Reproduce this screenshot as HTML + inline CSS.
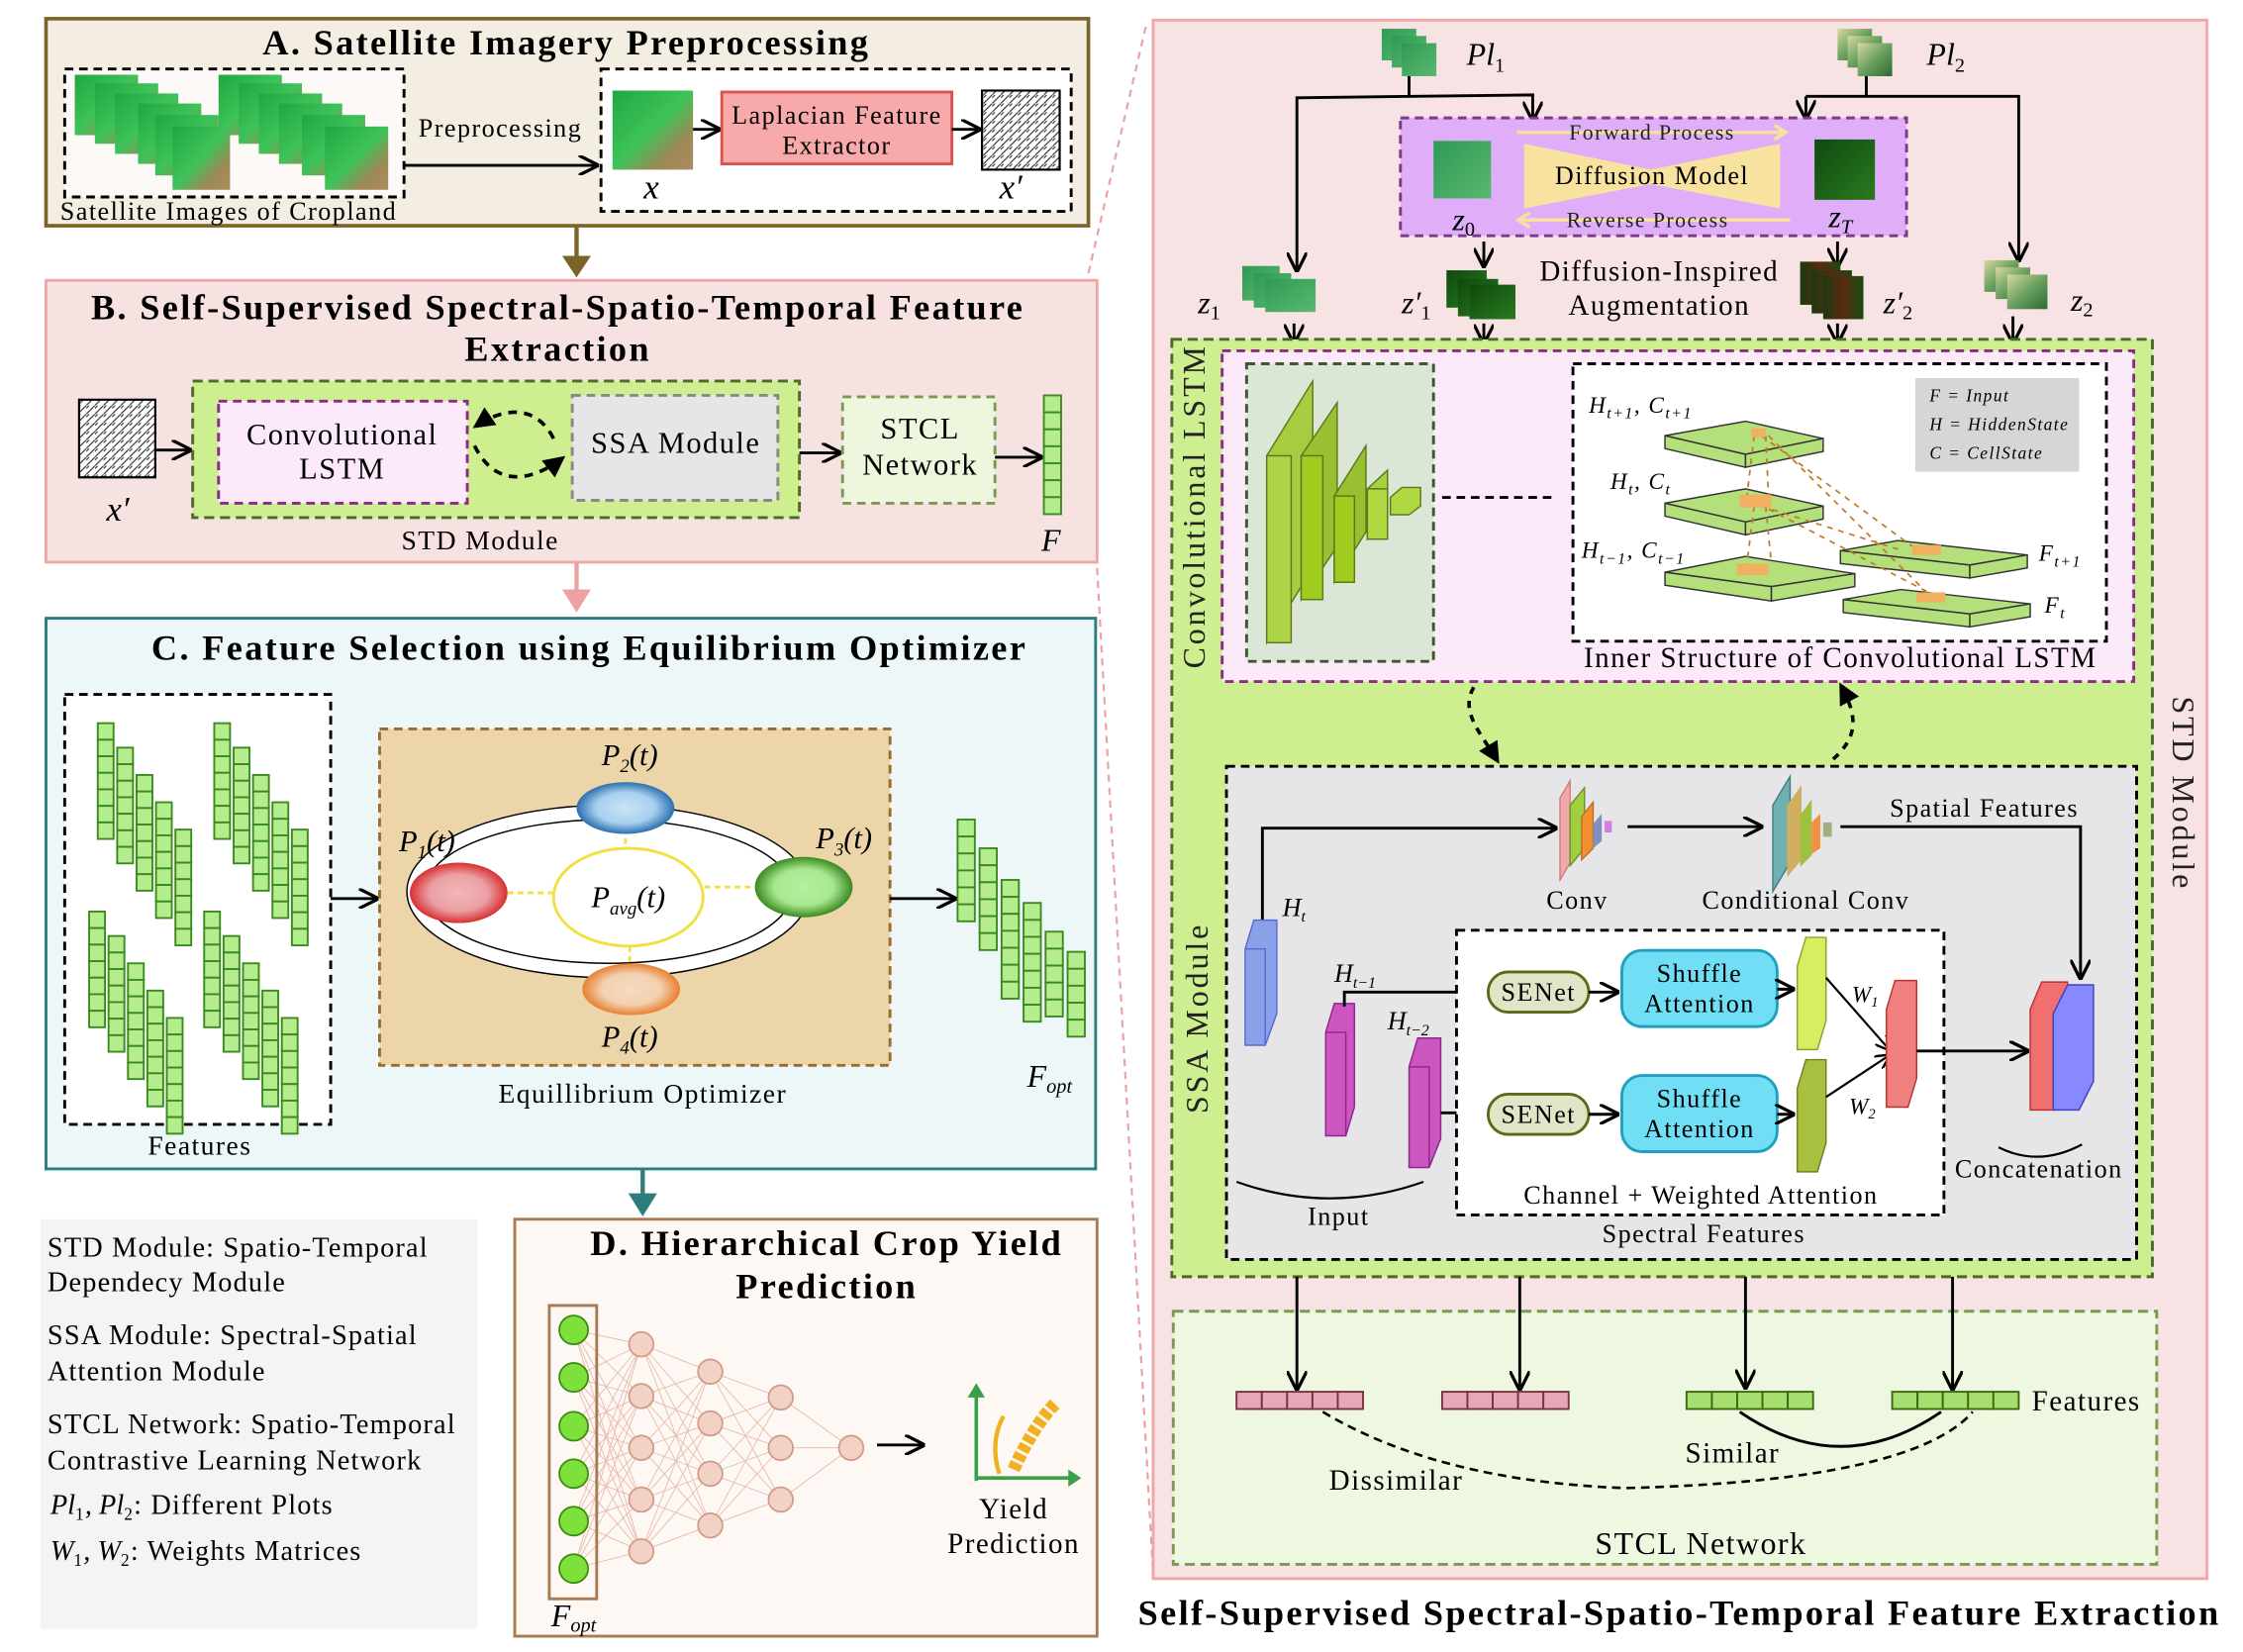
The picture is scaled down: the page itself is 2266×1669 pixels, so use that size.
<!DOCTYPE html>
<html><head><meta charset="utf-8"><style>
html,body{margin:0;padding:0;background:#fff;}
svg{display:block;}
text{font-family:"Liberation Serif",serif;letter-spacing:1px;}
.t{font-weight:bold;font-size:25px !important;text-anchor:middle;letter-spacing:1.6px;}
.m{font-size:17px;}
.i,tspan.i{font-style:italic;letter-spacing:0;}
text.i{letter-spacing:0;}
text[font-size="14"]{font-size:15px;}
text[font-size="15"]{font-size:16px;}
text[font-size="16"]{font-size:18px;}
text[font-size="17"]{font-size:19px;}
text[font-size="18"]{font-size:20px;}
text[font-size="19"]{font-size:21px;}
text[font-size="20"]{font-size:22px;}
text.rot{font-size:22px;letter-spacing:2px;}
g[font-size="18"]{font-size:19.5px;}
g[font-size="18"] text{letter-spacing:0.8px;}
</style></head><body>
<svg id="s" xmlns="http://www.w3.org/2000/svg" width="2266" height="1669" viewBox="0 0 1560 1149" preserveAspectRatio="none">
<defs>
<marker id="ar" viewBox="0 0 10 10" refX="9" refY="5" markerWidth="7" markerHeight="7" orient="auto"><path d="M0,0 L10,5 L0,10" fill="none" stroke="#000" stroke-width="1.6"/></marker>
<marker id="af" viewBox="0 0 10 10" refX="9" refY="5" markerWidth="6" markerHeight="6" orient="auto"><path d="M0,0 L10,5 L0,10z" fill="#000"/></marker>
<linearGradient id="sat" x1="0" y1="0" x2="1" y2="1"><stop offset="0" stop-color="#1fa840"/><stop offset=".5" stop-color="#3fc25a"/><stop offset=".75" stop-color="#9a8a55"/><stop offset="1" stop-color="#b08a60"/></linearGradient>
<linearGradient id="g1" x1="0" y1="0" x2="1" y2="1"><stop offset="0" stop-color="#2e9a55"/><stop offset="1" stop-color="#5ab870"/></linearGradient>
<linearGradient id="g2" x1="0" y1="0" x2="1" y2="1"><stop offset="0" stop-color="#d8d8a0"/><stop offset=".5" stop-color="#6aa060"/><stop offset="1" stop-color="#2c6a30"/></linearGradient>
<linearGradient id="g3" x1="0" y1="0" x2="1" y2="1"><stop offset="0" stop-color="#0e4a0e"/><stop offset="1" stop-color="#2a7a20"/></linearGradient>
<linearGradient id="g4" x1="0" y1="0" x2="1" y2="0"><stop offset="0" stop-color="#1a3a10"/><stop offset=".5" stop-color="#5a2a10"/><stop offset="1" stop-color="#1a4a10"/></linearGradient>
<radialGradient id="er"><stop offset="0" stop-color="#f5b5b5"/><stop offset=".6" stop-color="#eaa0a5"/><stop offset="1" stop-color="#d83030"/></radialGradient>
<radialGradient id="eb"><stop offset="0" stop-color="#c8e4f5"/><stop offset=".6" stop-color="#a8d0ee"/><stop offset="1" stop-color="#2a70b0"/></radialGradient>
<radialGradient id="eg"><stop offset="0" stop-color="#b8eea0"/><stop offset=".6" stop-color="#a8e890"/><stop offset="1" stop-color="#3a8a20"/></radialGradient>
<radialGradient id="eo"><stop offset="0" stop-color="#f5dcc0"/><stop offset=".6" stop-color="#f3d0b0"/><stop offset="1" stop-color="#e88030"/></radialGradient>
<pattern id="lap" width="6" height="6" patternUnits="userSpaceOnUse"><rect width="6" height="6" fill="#fff"/><path d="M0,6 L6,0 M0,2 L2,0" stroke="#333" stroke-width=".8"/></pattern>
</defs>

<rect x="802" y="14" width="733" height="1084" fill="#f7e3e3" stroke="#efa7a7" stroke-width="2"/>
<line x1="757" y1="190" x2="797" y2="18" stroke="#efa0a0" stroke-width="1.5" stroke-dasharray="5,4"/>
<line x1="763" y1="395" x2="802" y2="1095" stroke="#efa0a0" stroke-width="1.5" stroke-dasharray="5,4"/>

<!-- A -->
<rect x="32" y="13" width="725" height="144" fill="#f3ede2" stroke="#7b6428" stroke-width="2.5"/>
<text x="394" y="38" class="t">A. Satellite Imagery Preprocessing</text>
<rect x="45" y="48" width="236" height="89" fill="#fdf9f6" stroke="#000" stroke-width="2" stroke-dasharray="6,4"/>
<g>
<rect x="52" y="52" width="44" height="42" fill="url(#sat)"/><rect x="66" y="58" width="44" height="42" fill="url(#sat)"/><rect x="80" y="65" width="44" height="42" fill="url(#sat)"/><rect x="96" y="72" width="44" height="42" fill="url(#sat)"/><rect x="108" y="80" width="44" height="42" fill="url(#sat)"/><rect x="120" y="88" width="40" height="44" fill="url(#sat)"/>
<rect x="152" y="52" width="44" height="42" fill="url(#sat)"/><rect x="166" y="58" width="44" height="42" fill="url(#sat)"/><rect x="180" y="65" width="44" height="42" fill="url(#sat)"/><rect x="194" y="72" width="44" height="42" fill="url(#sat)"/><rect x="210" y="80" width="44" height="42" fill="url(#sat)"/><rect x="226" y="88" width="44" height="44" fill="url(#sat)"/>
</g>
<text x="159" y="153" text-anchor="middle" font-size="16">Satellite Images of Cropland</text>
<line x1="282" y1="115" x2="415" y2="115" stroke="#000" stroke-width="2" marker-end="url(#ar)"/>
<text x="348" y="95" text-anchor="middle" font-size="16">Preprocessing</text>
<rect x="418" y="48" width="327" height="99" fill="#fff" stroke="#000" stroke-width="2" stroke-dasharray="6,4"/>
<rect x="426" y="63" width="56" height="55" fill="url(#sat)"/>
<line x1="482" y1="90" x2="500" y2="90" stroke="#000" stroke-width="2" marker-end="url(#ar)"/>
<rect x="502" y="64" width="160" height="50" fill="#f8aaaa" stroke="#d9534f" stroke-width="2"/>
<text x="582" y="86" text-anchor="middle" font-size="16">Laplacian Feature</text>
<text x="582" y="107" text-anchor="middle" font-size="16">Extractor</text>
<line x1="662" y1="90" x2="681" y2="90" stroke="#000" stroke-width="2" marker-end="url(#ar)"/>
<rect x="683" y="63" width="54" height="55" fill="url(#lap)" stroke="#000" stroke-width="1.5"/>
<text x="453" y="138" font-size="24" class="i" text-anchor="middle">x</text>
<text x="703" y="138" font-size="24" class="i" text-anchor="middle">x′</text>
<line x1="401" y1="157" x2="401" y2="180" stroke="#7b6428" stroke-width="3"/>
<path d="M391,178 L411,178 L401,193z" fill="#7b6428"/>

<!-- B -->
<rect x="32" y="195" width="731" height="196" fill="#f7e2e2" stroke="#efa7a7" stroke-width="2"/>
<text x="388" y="222" class="t">B. Self-Supervised Spectral-Spatio-Temporal Feature</text>
<text x="388" y="251" class="t">Extraction</text>
<rect x="55" y="278" width="53" height="54" fill="url(#lap)" stroke="#000" stroke-width="1.5"/>
<line x1="108" y1="313" x2="132" y2="313" stroke="#000" stroke-width="2" marker-end="url(#ar)"/>
<text x="82" y="362" font-size="24" class="i" text-anchor="middle">x′</text>
<rect x="134" y="265" width="422" height="95" fill="#cdef8f" stroke="#4a6b2a" stroke-width="2" stroke-dasharray="7,4"/>
<rect x="152" y="279" width="173" height="71" fill="#fceafb" stroke="#8a2a8a" stroke-width="2" stroke-dasharray="6,4"/>
<text x="238" y="309" text-anchor="middle" font-size="19">Convolutional</text>
<text x="238" y="333" text-anchor="middle" font-size="19">LSTM</text>
<rect x="398" y="275" width="143" height="73" fill="#e6e6e6" stroke="#888" stroke-width="2" stroke-dasharray="6,4"/>
<text x="470" y="315" text-anchor="middle" font-size="19">SSA Module</text>
<path d="M385,305 C375,285 355,280 330,297" fill="none" stroke="#000" stroke-width="2.5" stroke-dasharray="6,5" marker-end="url(#af)"/>
<path d="M330,310 C345,340 370,335 392,318" fill="none" stroke="#000" stroke-width="2.5" stroke-dasharray="6,5" marker-end="url(#af)"/>
<text x="334" y="382" text-anchor="middle" font-size="17">STD Module</text>
<line x1="556" y1="315" x2="584" y2="315" stroke="#000" stroke-width="2" marker-end="url(#ar)"/>
<rect x="586" y="276" width="106" height="74" fill="#eef7de" stroke="#7a9a50" stroke-width="2" stroke-dasharray="6,4"/>
<text x="640" y="305" text-anchor="middle" font-size="19">STCL</text>
<text x="640" y="330" text-anchor="middle" font-size="19">Network</text>
<line x1="692" y1="318" x2="724" y2="318" stroke="#000" stroke-width="2" marker-end="url(#ar)"/>
<g id="fcol"></g>
<text x="731" y="383" font-size="22" class="i" text-anchor="middle">F</text>
<line x1="401" y1="391" x2="401" y2="412" stroke="#efa0a0" stroke-width="3"/>
<path d="M391,410 L411,410 L401,426z" fill="#efa0a0"/>

<!-- C -->
<rect x="32" y="430" width="730" height="383" fill="#eef7f8" stroke="#2e7d7e" stroke-width="2"/>
<text x="410" y="459" class="t">C. Feature Selection using Equilibrium Optimizer</text>
<rect x="45" y="483" width="185" height="299" fill="#fff" stroke="#000" stroke-width="2" stroke-dasharray="6,4"/>
<g id="feats"></g>
<text x="139" y="803" text-anchor="middle" font-size="17">Features</text>
<line x1="230" y1="625" x2="262" y2="625" stroke="#000" stroke-width="2" marker-end="url(#ar)"/>
<rect x="264" y="507" width="355" height="234" fill="#edd5aa" stroke="#9a6a30" stroke-width="2" stroke-dasharray="6,4"/>
<ellipse cx="423" cy="620" rx="140" ry="60" fill="#fff" stroke="#000" stroke-width="1"/>
<ellipse cx="423" cy="620" rx="128" ry="50" fill="#fff" stroke="#000" stroke-width="1"/>
<line x1="353" y1="621" x2="384" y2="621" stroke="#f0e040" stroke-width="2" stroke-dasharray="4,3"/>
<line x1="490" y1="617" x2="525" y2="617" stroke="#f0e040" stroke-width="2" stroke-dasharray="4,3"/>
<line x1="435" y1="576" x2="435" y2="597" stroke="#f0e040" stroke-width="2" stroke-dasharray="4,3"/>
<line x1="438" y1="651" x2="438" y2="670" stroke="#f0e040" stroke-width="2" stroke-dasharray="4,3"/>
<ellipse cx="437" cy="624" rx="52" ry="34" fill="#fff" stroke="#f0e040" stroke-width="2"/>
<text x="437" y="631" text-anchor="middle" font-size="21" class="i">P<tspan font-size="13" dy="5">avg</tspan><tspan dy="-5">(t)</tspan></text>
<ellipse cx="319" cy="621" rx="34" ry="21" fill="url(#er)"/>
<ellipse cx="435" cy="562" rx="34" ry="18" fill="url(#eb)"/>
<ellipse cx="559" cy="617" rx="34" ry="21" fill="url(#eg)"/>
<ellipse cx="439" cy="688" rx="34" ry="18" fill="url(#eo)"/>
<text x="297" y="592" text-anchor="middle" font-size="21" class="i">P<tspan font-size="13" dy="5">1</tspan><tspan dy="-5">(t)</tspan></text>
<text x="438" y="532" text-anchor="middle" font-size="21" class="i">P<tspan font-size="13" dy="5">2</tspan><tspan dy="-5">(t)</tspan></text>
<text x="587" y="590" text-anchor="middle" font-size="21" class="i">P<tspan font-size="13" dy="5">3</tspan><tspan dy="-5">(t)</tspan></text>
<text x="438" y="728" text-anchor="middle" font-size="21" class="i">P<tspan font-size="13" dy="5">4</tspan><tspan dy="-5">(t)</tspan></text>
<text x="447" y="767" text-anchor="middle" font-size="17">Equillibrium Optimizer</text>
<line x1="619" y1="625" x2="664" y2="625" stroke="#000" stroke-width="2" marker-end="url(#ar)"/>
<g id="fopt"></g>
<text x="730" y="756" text-anchor="middle" font-size="20" class="i">F<tspan font-size="14" dy="4">opt</tspan></text>
<line x1="447" y1="813" x2="447" y2="832" stroke="#2e7d7e" stroke-width="3"/>
<path d="M437,830 L457,830 L447,846z" fill="#2e7d7e"/>

<!-- Legend -->
<rect x="28" y="848" width="304" height="285" fill="#f4f4f4"/>
<g font-size="18">
<text x="33" y="874">STD Module: Spatio-Temporal</text>
<text x="33" y="898">Dependecy Module</text>
<text x="33" y="935">SSA Module: Spectral-Spatial</text>
<text x="33" y="960">Attention Module</text>
<text x="33" y="997">STCL Network: Spatio-Temporal</text>
<text x="33" y="1022">Contrastive Learning Network</text>
<text x="35" y="1053"><tspan class="i">Pl</tspan><tspan font-size="12" dy="4">1</tspan><tspan dy="-4" class="i">, Pl</tspan><tspan font-size="12" dy="4">2</tspan><tspan dy="-4">: Different Plots</tspan></text>
<text x="35" y="1085"><tspan class="i">W</tspan><tspan font-size="12" dy="4">1</tspan><tspan dy="-4" class="i">, W</tspan><tspan font-size="12" dy="4">2</tspan><tspan dy="-4">: Weights Matrices</tspan></text>
</g>

<!-- D -->
<rect x="358" y="848" width="405" height="290" fill="#fdf8f4" stroke="#a67b55" stroke-width="2"/>
<text x="575" y="873" class="t">D. Hierarchical Crop Yield</text>
<text x="575" y="903" class="t">Prediction</text>
<g id="nn"></g>
<rect x="382" y="908" width="33" height="204" fill="none" stroke="#a67b55" stroke-width="2"/>
<text x="399" y="1131" text-anchor="middle" font-size="20" class="i">F<tspan font-size="14" dy="4">opt</tspan></text>
<line x1="610" y1="1005" x2="642" y2="1005" stroke="#000" stroke-width="2" marker-end="url(#ar)"/>
<path d="M679,1030 L679,970 M679,1028 L745,1028" stroke="#3aa048" stroke-width="2.5" fill="none"/>
<path d="M673,972 L679,962 L685,972z M743,1022 L752,1028 L743,1034z" fill="#3aa048"/>
<path d="M705,1022 C715,1000 725,985 735,975" stroke="#f0b020" stroke-width="9" stroke-dasharray="5,2" fill="none"/>
<path d="M695,1025 C690,1010 692,995 698,985" stroke="#f0b020" stroke-width="3" fill="none"/>
<text x="705" y="1056" text-anchor="middle" font-size="18">Yield</text>
<text x="705" y="1080" text-anchor="middle" font-size="18">Prediction</text>

<!-- Right panel top -->
<g>
<rect x="961" y="20" width="24" height="22" fill="url(#g1)"/><rect x="968" y="25" width="24" height="22" fill="url(#g1)"/><rect x="975" y="30" width="24" height="23" fill="url(#g1)"/>
<text x="1020" y="45" font-size="22" class="i">Pl<tspan font-size="14" dy="5" font-style="normal">1</tspan></text>
<rect x="1278" y="20" width="24" height="22" fill="url(#g2)"/><rect x="1285" y="25" width="24" height="22" fill="url(#g2)"/><rect x="1292" y="30" width="24" height="23" fill="url(#g2)"/>
<text x="1340" y="45" font-size="22" class="i">Pl<tspan font-size="14" dy="5" font-style="normal">2</tspan></text>
</g>
<g fill="none" stroke="#000" stroke-width="2">
<path d="M980,53 L980,66 M902,68 L1066,66 L1066,83" marker-end="url(#ar)"/>
<path d="M902,67 L902,188" marker-end="url(#ar)"/>
<path d="M1298,53 L1298,66 M1256,67 L1404,67 L1404,181" marker-end="url(#ar)"/>
<path d="M1256,67 L1256,82" marker-end="url(#ar)"/>
<path d="M1032,168 L1032,185" marker-end="url(#ar)"/>
<path d="M1278,168 L1278,185" marker-end="url(#ar)"/>
<path d="M900,225 L900,238" marker-end="url(#ar)"/>
<path d="M1032,225 L1032,238" marker-end="url(#ar)"/>
<path d="M1278,225 L1278,238" marker-end="url(#ar)"/>
<path d="M1400,220 L1400,238" marker-end="url(#ar)"/>
</g>
<rect x="974" y="82" width="352" height="82" fill="#e0aef8" stroke="#7a3a8a" stroke-width="2" stroke-dasharray="6,4"/>
<rect x="997" y="98" width="40" height="40" fill="url(#g1)"/>
<rect x="1262" y="97" width="42" height="42" fill="url(#g3)"/>
<text x="1018" y="160" font-size="20" class="i" text-anchor="middle">z<tspan font-size="14" dy="4" font-style="normal">0</tspan></text>
<text x="1280" y="158" font-size="20" class="i" text-anchor="middle">z<tspan font-size="14" dy="4">T</tspan></text>
<path d="M1060,100 L1148,118 L1238,100 L1238,145 L1148,128 L1060,145z" fill="#f8e2a0"/>
<text x="1149" y="128" text-anchor="middle" font-size="16">Diffusion Model</text>
<path d="M1055,92 L1240,92 M1234,87 L1242,92 L1234,97" stroke="#f4e0a0" stroke-width="2.5" fill="none"/>
<path d="M1245,153 L1058,153 M1064,148 L1056,153 L1064,158" stroke="#f4e0a0" stroke-width="2.5" fill="none"/>
<text x="1149" y="97" text-anchor="middle" font-size="14" fill="#222">Forward Process</text>
<text x="1146" y="158" text-anchor="middle" font-size="14" fill="#222">Reverse Process</text>
<text x="841" y="218" font-size="20" class="i" text-anchor="middle">z<tspan font-size="14" dy="4" font-style="normal">1</tspan></text>
<rect x="864" y="185" width="26" height="24" fill="url(#g1)"/><rect x="872" y="190" width="26" height="24" fill="url(#g1)"/><rect x="880" y="194" width="35" height="23" fill="url(#g1)"/>
<text x="985" y="218" font-size="20" class="i" text-anchor="middle">z′<tspan font-size="14" dy="4" font-style="normal">1</tspan></text>
<rect x="1006" y="188" width="28" height="26" fill="url(#g3)"/><rect x="1014" y="194" width="28" height="26" fill="url(#g3)"/><rect x="1022" y="198" width="32" height="24" fill="url(#g3)"/>
<text x="1154" y="195" text-anchor="middle" font-size="18">Diffusion-Inspired</text>
<text x="1154" y="219" text-anchor="middle" font-size="18">Augmentation</text>
<rect x="1252" y="182" width="28" height="30" fill="url(#g4)"/><rect x="1260" y="188" width="28" height="30" fill="url(#g4)"/><rect x="1268" y="192" width="28" height="30" fill="url(#g4)"/>
<text x="1320" y="218" font-size="20" class="i" text-anchor="middle">z′<tspan font-size="14" dy="4" font-style="normal">2</tspan></text>
<rect x="1380" y="181" width="24" height="22" fill="url(#g2)"/><rect x="1388" y="186" width="24" height="22" fill="url(#g2)"/><rect x="1396" y="191" width="28" height="24" fill="url(#g2)"/>
<text x="1448" y="216" font-size="20" class="i" text-anchor="middle">z<tspan font-size="14" dy="4" font-style="normal">2</tspan></text>

<!-- STD green area -->
<rect x="815" y="236" width="682" height="652" fill="#cdef8f" stroke="#4a6b2a" stroke-width="2" stroke-dasharray="7,4"/>
<text class="rot" transform="translate(838,352) rotate(-90)" text-anchor="middle" fill="#222">Convolutional LSTM</text>
<text class="rot" transform="translate(1511,552) rotate(90)" text-anchor="middle" fill="#222">STD Module</text>
<rect x="850" y="244" width="634" height="230" fill="#fceafb" stroke="#8a2a8a" stroke-width="2" stroke-dasharray="6,4"/>
<rect x="867" y="253" width="130" height="207" fill="#dce6d6" stroke="#3a5a2a" stroke-width="2" stroke-dasharray="6,4"/>
<g stroke="#5a7a1a" stroke-width="1">
<path d="M881,317 L913,265 L913,395 L881,447z" fill="#a8cc40"/><rect x="881" y="317" width="17" height="130" fill="#b0d448"/>
<path d="M905,317 L930,280 L930,380 L905,417z" fill="#98c030"/><rect x="905" y="317" width="15" height="100" fill="#a0cc20"/>
<path d="M928,345 L950,310 L950,370 L928,405z" fill="#98c030"/><rect x="928" y="345" width="14" height="60" fill="#a0cc20"/>
<path d="M951,340 L965,327 L965,360 L951,375z" fill="#a8d040"/><rect x="951" y="340" width="14" height="35" fill="#b0d840"/>
<path d="M967,346 L975,339 L988,339 L988,352 L980,358 L967,358z" fill="#b0d840"/>
</g>
<line x1="1003" y1="346" x2="1083" y2="346" stroke="#000" stroke-width="2" stroke-dasharray="6,4"/>
<rect x="1094" y="253" width="371" height="193" fill="#fff" stroke="#000" stroke-width="2" stroke-dasharray="6,4"/>
<rect x="1332" y="263" width="114" height="65" fill="#d6d6d6"/>
<g font-size="12" font-style="italic"><text x="1342" y="279" letter-spacing="0">F = Input</text><text x="1342" y="299" letter-spacing="0">H = HiddenState</text><text x="1342" y="319" letter-spacing="0">C = CellState</text></g>
<g fill="#b3e07a" stroke="#333" stroke-width="1">
<path d="M1158,303 L1214,293 L1268,305 L1214,316z"/><path d="M1158,303 L1158,312 L1214,325 L1214,316z"/><path d="M1214,325 L1268,314 L1268,305 L1214,316z"/>
<path d="M1158,350 L1214,340 L1268,352 L1214,363z"/><path d="M1158,350 L1158,359 L1214,372 L1214,363z"/><path d="M1214,372 L1268,361 L1268,352 L1214,363z"/>
<path d="M1158,398 L1214,387 L1290,399 L1232,408z"/><path d="M1158,398 L1158,407 L1232,418 L1232,408z"/><path d="M1232,418 L1290,408 L1290,399 L1232,408z"/>
<path d="M1280,383 L1320,376 L1410,386 L1370,393z"/><path d="M1280,383 L1280,392 L1370,402 L1370,393z"/><path d="M1370,402 L1410,395 L1410,386 L1370,393z"/>
<path d="M1282,417 L1322,410 L1412,420 L1370,427z"/><path d="M1282,417 L1282,426 L1370,436 L1370,427z"/><path d="M1370,436 L1412,429 L1412,420 L1370,427z"/>
</g>
<g stroke="#c07a2a" stroke-width="1.2" stroke-dasharray="4,4" fill="none">
<path d="M1220,303 L1215,345 M1228,303 L1230,345 M1225,303 L1330,380 M1230,303 L1340,412 M1220,352 L1215,392 M1228,352 L1232,392 M1225,352 L1320,382 M1230,354 L1345,414"/>
</g>
<g fill="#f0b060"><rect x="1218" y="298" width="10" height="6"/><rect x="1210" y="344" width="22" height="9"/><rect x="1208" y="392" width="22" height="8"/><rect x="1330" y="379" width="20" height="7"/><rect x="1333" y="412" width="20" height="7"/></g>
<g font-size="16" font-style="italic">
<text x="1105" y="287" letter-spacing="0">H<tspan font-size="11" dy="4">t+1</tspan><tspan dy="-4">, C</tspan><tspan font-size="11" dy="4">t+1</tspan></text>
<text x="1120" y="340" letter-spacing="0">H<tspan font-size="11" dy="4">t</tspan><tspan dy="-4">, C</tspan><tspan font-size="11" dy="4">t</tspan></text>
<text x="1100" y="388" letter-spacing="0">H<tspan font-size="11" dy="4">t−1</tspan><tspan dy="-4">, C</tspan><tspan font-size="11" dy="4">t−1</tspan></text>
<text x="1418" y="390" letter-spacing="0">F<tspan font-size="11" dy="4">t+1</tspan></text>
<text x="1422" y="426" letter-spacing="0">F<tspan font-size="11" dy="4">t</tspan></text>
</g>
<text x="1280" y="464" text-anchor="middle" font-size="18">Inner Structure of Convolutional LSTM</text>
<path d="M1025,478 C1015,495 1030,510 1042,530" fill="none" stroke="#000" stroke-width="2.5" stroke-dasharray="5,5" marker-end="url(#af)"/>
<path d="M1275,528 C1295,510 1290,495 1280,476" fill="none" stroke="#000" stroke-width="2.5" stroke-dasharray="5,5" marker-end="url(#af)"/>

<!-- SSA -->
<rect x="853" y="533" width="633" height="343" fill="#e6e5e8" stroke="#000" stroke-width="2" stroke-dasharray="6,4"/>
<text class="rot" transform="translate(840,708) rotate(-90)" text-anchor="middle" fill="#222">SSA Module</text>
<path d="M878,640 L878,576 L1082,576" fill="none" stroke="#000" stroke-width="2" marker-end="url(#ar)"/>
<g stroke-width="1">
<path d="M1085,555 L1092,543 L1092,600 L1085,612z" fill="#f0a8a8" stroke="#d08080"/>
<path d="M1092,560 L1102,548 L1102,590 L1092,602z" fill="#a0d040" stroke="#709030"/>
<path d="M1100,568 L1108,558 L1108,590 L1100,598z" fill="#f09030" stroke="#c07020"/>
<path d="M1108,573 L1114,566 L1114,585 L1108,590z" fill="#8090c0"/>
<rect x="1116" y="571" width="5" height="8" fill="#d080e0"/>
</g>
<line x1="1132" y1="575" x2="1225" y2="575" stroke="#000" stroke-width="2" marker-end="url(#ar)"/>
<g stroke-width="1">
<path d="M1233,560 L1245,540 L1245,600 L1233,620z" fill="#70b0b0" stroke="#408080"/>
<path d="M1243,560 L1253,546 L1253,598 L1243,610z" fill="#d0b060"/>
<path d="M1252,567 L1260,556 L1260,595 L1252,603z" fill="#a0c040"/>
<path d="M1260,572 L1266,566 L1266,590 L1260,594z" fill="#f09040"/>
<rect x="1268" y="572" width="6" height="10" fill="#a0b080"/>
</g>
<text x="1097" y="632" text-anchor="middle" font-size="16">Conv</text>
<text x="1256" y="632" text-anchor="middle" font-size="16">Conditional Conv</text>
<text x="1380" y="568" text-anchor="middle" font-size="16">Spatial Features</text>
<path d="M1280,575 L1447,575 L1447,680" fill="none" stroke="#000" stroke-width="2" marker-end="url(#ar)"/>
<path d="M866,660 L872,640 L888,640 L888,705 L880,727 L866,727z" fill="#8aa0e8" stroke="#5a6ad0"/>
<path d="M866,660 L880,660 L880,727" fill="none" stroke="#5a6ad0"/>
<text x="892" y="637" font-size="16" class="i">H<tspan font-size="11" dy="4">t</tspan></text>
<path d="M922,718 L928,698 L942,698 L942,770 L936,790 L922,790z" fill="#cc55c0" stroke="#8a2a8a"/>
<path d="M922,718 L936,718 L936,790" fill="none" stroke="#8a2a8a"/>
<path d="M980,742 L986,722 L1002,722 L1002,792 L994,812 L980,812z" fill="#cc55c0" stroke="#8a2a8a"/>
<path d="M980,742 L994,742 L994,812" fill="none" stroke="#8a2a8a"/>
<text x="928" y="683" font-size="16" class="i">H<tspan font-size="11" dy="4">t−1</tspan></text>
<text x="965" y="716" font-size="16" class="i">H<tspan font-size="11" dy="4">t−2</tspan></text>
<path d="M935,700 L935,690 L1030,690" fill="none" stroke="#000" stroke-width="2" marker-end="url(#ar)"/>
<line x1="1002" y1="774" x2="1030" y2="774" stroke="#000" stroke-width="2" marker-end="url(#ar)"/>
<path d="M860,822 Q925,845 990,822" fill="none" stroke="#000" stroke-width="1.5"/>
<text x="931" y="852" text-anchor="middle" font-size="16">Input</text>
<rect x="1013" y="647" width="339" height="198" fill="#fff" stroke="#000" stroke-width="2" stroke-dasharray="6,4"/>
<rect x="1035" y="676" width="70" height="28" rx="14" fill="#dfe6c8" stroke="#5a6a1a" stroke-width="2"/>
<text x="1070" y="696" text-anchor="middle" font-size="16">SENet</text>
<rect x="1035" y="761" width="70" height="28" rx="14" fill="#dfe6c8" stroke="#5a6a1a" stroke-width="2"/>
<text x="1070" y="781" text-anchor="middle" font-size="16">SENet</text>
<line x1="1105" y1="690" x2="1125" y2="690" stroke="#000" stroke-width="2" marker-end="url(#ar)"/>
<line x1="1105" y1="775" x2="1125" y2="775" stroke="#000" stroke-width="2" marker-end="url(#ar)"/>
<rect x="1128" y="661" width="108" height="53" rx="14" fill="#70dff5" stroke="#20a0c0" stroke-width="2"/>
<text x="1182" y="683" text-anchor="middle" font-size="16">Shuffle</text><text x="1182" y="704" text-anchor="middle" font-size="16">Attention</text>
<rect x="1128" y="748" width="108" height="53" rx="14" fill="#70dff5" stroke="#20a0c0" stroke-width="2"/>
<text x="1182" y="770" text-anchor="middle" font-size="16">Shuffle</text><text x="1182" y="791" text-anchor="middle" font-size="16">Attention</text>
<line x1="1236" y1="688" x2="1247" y2="688" stroke="#000" stroke-width="2" marker-end="url(#ar)"/>
<line x1="1236" y1="775" x2="1247" y2="775" stroke="#000" stroke-width="2" marker-end="url(#ar)"/>
<path d="M1250,672 L1256,652 L1270,652 L1270,710 L1264,730 L1250,730z" fill="#d8ee60" stroke="#90a030"/>
<path d="M1250,757 L1256,737 L1270,737 L1270,795 L1264,815 L1250,815z" fill="#a8c040" stroke="#708020"/>
<line x1="1270" y1="680" x2="1314" y2="730" stroke="#000" stroke-width="1.5" marker-end="url(#ar)"/>
<line x1="1270" y1="763" x2="1314" y2="734" stroke="#000" stroke-width="1.5" marker-end="url(#ar)"/>
<text x="1288" y="697" font-size="15" class="i">W<tspan font-size="10" dy="3">1</tspan></text>
<text x="1286" y="775" font-size="15" class="i">W<tspan font-size="10" dy="3">2</tspan></text>
<path d="M1312,702 L1318,682 L1333,682 L1333,750 L1327,770 L1312,770z" fill="#f08080" stroke="#c03030"/>
<line x1="1333" y1="731" x2="1410" y2="731" stroke="#000" stroke-width="2" marker-end="url(#ar)"/>
<text x="1183" y="837" text-anchor="middle" font-size="16">Channel + Weighted Attention</text>
<text x="1185" y="864" text-anchor="middle" font-size="16">Spectral Features</text>
<path d="M1412,702 L1420,683 L1438,683 L1438,753 L1430,772 L1412,772z" fill="#f07070" stroke="#c03030"/>
<path d="M1428,705 L1438,685 L1456,685 L1456,752 L1446,772 L1428,772z" fill="#8888ff" stroke="#4040c0"/>
<path d="M1390,798 Q1418,812 1448,796" fill="none" stroke="#000" stroke-width="1.5"/>
<text x="1418" y="819" text-anchor="middle" font-size="16">Concatenation</text>

<!-- STCL -->
<rect x="816" y="912" width="684" height="176" fill="#eef7df" stroke="#7a9a50" stroke-width="2" stroke-dasharray="7,4"/>
<g stroke="#000" stroke-width="2">
<line x1="902" y1="888" x2="902" y2="966" marker-end="url(#ar)"/>
<line x1="1057" y1="888" x2="1057" y2="966" marker-end="url(#ar)"/>
<line x1="1214" y1="888" x2="1214" y2="965" marker-end="url(#ar)"/>
<line x1="1358" y1="888" x2="1358" y2="966" marker-end="url(#ar)"/>
</g>
<g id="stcl"></g>
<path d="M1210,982 Q1280,1030 1350,982" fill="none" stroke="#000" stroke-width="2"/>
<path d="M920,982 Q1000,1030 1130,1035 Q1330,1030 1372,982" fill="none" stroke="#000" stroke-width="1.8" stroke-dasharray="6,4"/>
<text x="1205" y="1017" text-anchor="middle" font-size="18">Similar</text>
<text x="971" y="1036" text-anchor="middle" font-size="18">Dissimilar</text>
<text x="1451" y="981" text-anchor="middle" font-size="18">Features</text>
<text x="1183" y="1081" text-anchor="middle" font-size="20">STCL Network</text>
<text x="1168" y="1130" class="t">Self-Supervised Spectral-Spatio-Temporal Feature Extraction</text>
</svg>
<script>
var NS="http://www.w3.org/2000/svg";
function R(g,x,y,w,h,f,s){var r=document.createElementNS(NS,"rect");r.setAttribute("x",x);r.setAttribute("y",y);r.setAttribute("width",w);r.setAttribute("height",h);r.setAttribute("fill",f);r.setAttribute("stroke",s);r.setAttribute("stroke-width","1.3");g.appendChild(r);}
function col(g,x,y,w,n,c){for(var i=0;i<n;i++)R(g,x,y+i*c,w,c,"#b5ec8e","#3a8a20");}
col(document.getElementById("fcol"),726,275,12,7,11.8);
var fe=document.getElementById("feats");
[[68,503],[149,503],[62,634],[142,634]].forEach(function(o){for(var i=0;i<5;i++)col(fe,o[0]+13.5*i,o[1]+(i<2?i*17:17+(i-1)*19),11,7,11.5);});
var fo=document.getElementById("fopt");
var ys=[570,590,612,628,648,662];
for(var i=0;i<6;i++)col(fo,666+15.3*i,ys[i],12,i<2?6:(i<4?7:5),11.8);
var st=document.getElementById("stcl");
[[860,"#e6a8b8","#7a3040"],[1003,"#e6a8b8","#7a3040"],[1173,"#a8dd70","#3a6a10"],[1316,"#a8dd70","#3a6a10"]].forEach(function(o){for(var i=0;i<5;i++)R(st,o[0]+i*17.6,968,17.6,12,o[1],o[2]);});
var nn=document.getElementById("nn");
var L=[[399,[925,958,992,1025,1058,1091]],[446,[935,971,1007,1043,1079]],[494,[954,990,1025,1061]],[543,[972,1007,1043]],[592,[1007]]];
for(var l=0;l<4;l++)for(var a=0;a<L[l][1].length;a++)for(var b=0;b<L[l+1][1].length;b++){var ln=document.createElementNS(NS,"line");ln.setAttribute("x1",L[l][0]);ln.setAttribute("y1",L[l][1][a]);ln.setAttribute("x2",L[l+1][0]);ln.setAttribute("y2",L[l+1][1][b]);ln.setAttribute("stroke","#e8b8a8");ln.setAttribute("stroke-width","0.6");nn.appendChild(ln);}
L.forEach(function(c,l){c[1].forEach(function(y){var e=document.createElementNS(NS,"circle");e.setAttribute("cx",c[0]);e.setAttribute("cy",y);e.setAttribute("r",l==0?10:8.5);e.setAttribute("fill",l==0?"#7ee03a":"#f2d2c4");e.setAttribute("stroke",l==0?"#3a8a10":"#d09a88");e.setAttribute("stroke-width","1.2");nn.appendChild(e);});});
</script>
</body></html>
